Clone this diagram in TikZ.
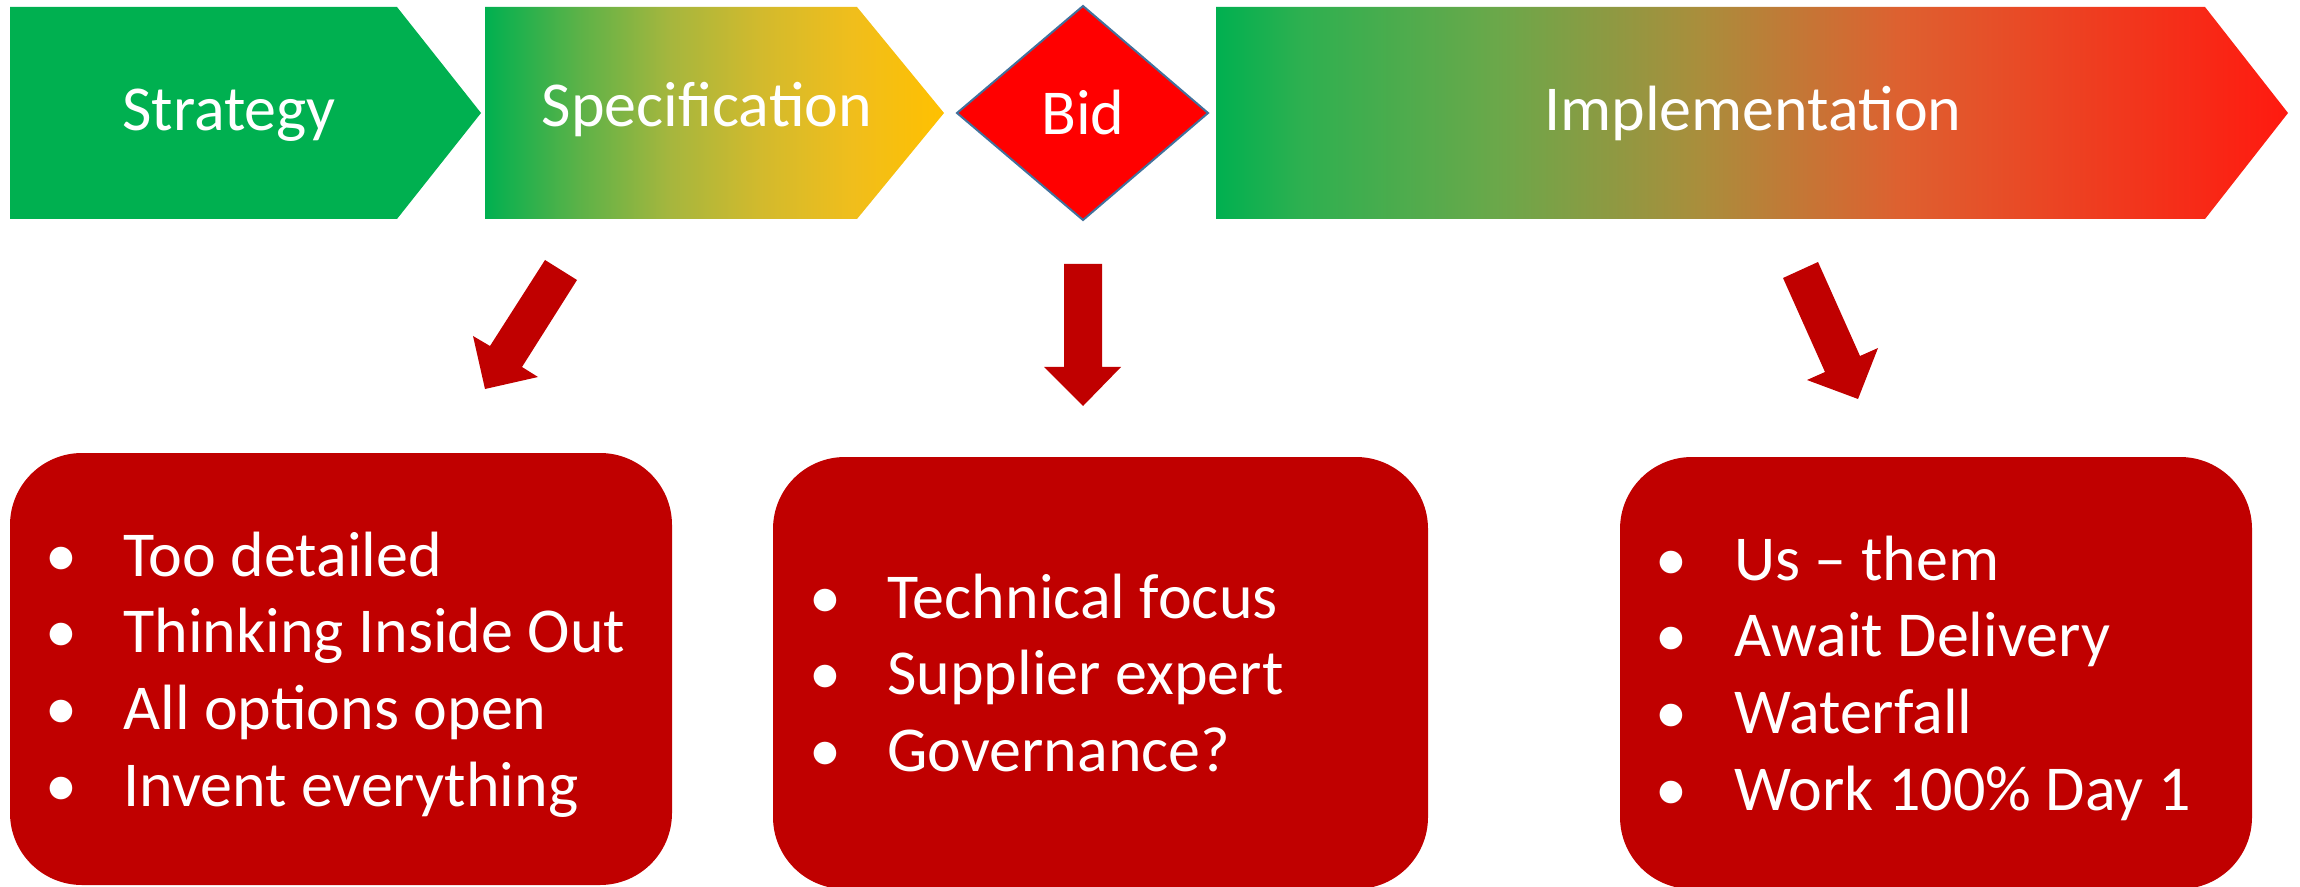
\documentclass[tikz,border=0pt]{standalone}
\usepackage{fontspec}
\setmainfont{Carlito}
\definecolor{cgreen}{RGB}{0,176,80}
\definecolor{cdark}{RGB}{192,0,0}
\definecolor{cbright}{RGB}{255,0,0}
\definecolor{cblue}{RGB}{65,113,156}
\pgfdeclarehorizontalshading{specgrad}{100bp}{rgb(0bp)=(0,0.69,0.314); rgb(25bp)=(0,0.69,0.314); rgb(35bp)=(0.353,0.698,0.282); rgb(45bp)=(0.647,0.714,0.243); rgb(55bp)=(0.824,0.729,0.176); rgb(65bp)=(0.941,0.745,0.11); rgb(75bp)=(1,0.753,0); rgb(100bp)=(1,0.753,0)}
\pgfdeclarehorizontalshading{implgrad}{100bp}{rgb(0bp)=(0,0.69,0.314); rgb(25bp)=(0,0.69,0.314); rgb(29bp)=(0.18,0.69,0.314); rgb(38bp)=(0.416,0.659,0.29); rgb(47.5bp)=(0.663,0.557,0.235); rgb(57bp)=(0.871,0.376,0.188); rgb(75bp)=(1,0.1,0.06); rgb(100bp)=(1,0.1,0.06)}
\begin{document}
\begin{tikzpicture}[x=0.5pt,y=-0.5pt,
  hdr/.style={text=white,font=\fontsize{32}{38.4}\selectfont,inner sep=0pt,anchor=base},
  lst/.style={text=white,font=\fontsize{32}{38.4}\selectfont,inner sep=0pt,anchor=base west},
  redbox/.style={fill=cdark,rounded corners=36pt},
  blockarrow/.style={fill=cdark}]
\useasboundingbox (0,0) rectangle (2300,887);
% phase shapes
\fill[cgreen] (10,7) -- (397,7) -- (481,113) -- (397,219) -- (10,219) -- cycle;
\shade[shading=specgrad] (485,7) -- (857,7) -- (944,113) -- (857,219) -- (485,219) -- cycle;
\filldraw[fill=cbright,draw=cblue,line width=1pt] (1083,6) -- (1208,113) -- (1083,220) -- (957,113) -- cycle;
\shade[shading=implgrad] (1216,7) -- (2205,7) -- (2288,113) -- (2205,219) -- (1216,219) -- cycle;
% header texts
\node[hdr] (strategy) at (229,131) {Strategy};
\node[hdr] (spec) at (707,127) {Specification};
\node[hdr] (bid) at (1083,135) {Bid};
\node[hdr] (impl) at (1753,131) {Implementation};
% block arrows
\fill[blockarrow] (545,260) -- (577,280) -- (522,367) -- (538,377) -- (485,389) -- (473,336) -- (490,346) -- cycle;
\fill[blockarrow] (1064,264) -- (1102,264) -- (1102,367) -- (1121,367) -- (1083,406) -- (1044,367) -- (1064,367) -- cycle;
\fill[blockarrow] (1783,278) -- (1818,262) -- (1860,356) -- (1878,348) -- (1858,399) -- (1807,380) -- (1825,372) -- cycle;
% boxes
\fill[redbox] (10,453) rectangle (672,885);
\fill[redbox] (773,457) rectangle (1428,889);
\fill[redbox] (1620,457) rectangle (2252,889);
% lists
\node[lst] (list1) at (61,576) {\begin{tabular}[t]{@{}l@{}}
\makebox[0pt]{\textbullet}\hspace{31pt}Too detailed\\
\makebox[0pt]{\textbullet}\hspace{31pt}Thinking Inside Out\\
\makebox[0pt]{\textbullet}\hspace{31pt}All options open\\
\makebox[0pt]{\textbullet}\hspace{31pt}Invent everything
\end{tabular}};
\node[lst] (list2) at (825,618) {\begin{tabular}[t]{@{}l@{}}
\makebox[0pt]{\textbullet}\hspace{31pt}Technical focus\\
\makebox[0pt]{\textbullet}\hspace{31pt}Supplier expert\\
\makebox[0pt]{\textbullet}\hspace{31pt}Governance?
\end{tabular}};
\node[lst] (list3) at (1671,580) {\begin{tabular}[t]{@{}l@{}}
\makebox[0pt]{\textbullet}\hspace{31.5pt}Us – them\\
\makebox[0pt]{\textbullet}\hspace{31.5pt}Await Delivery\\
\makebox[0pt]{\textbullet}\hspace{31.5pt}Waterfall\\
\makebox[0pt]{\textbullet}\hspace{31.5pt}Work 100\% Day 1
\end{tabular}};
\end{tikzpicture}
\end{document}
